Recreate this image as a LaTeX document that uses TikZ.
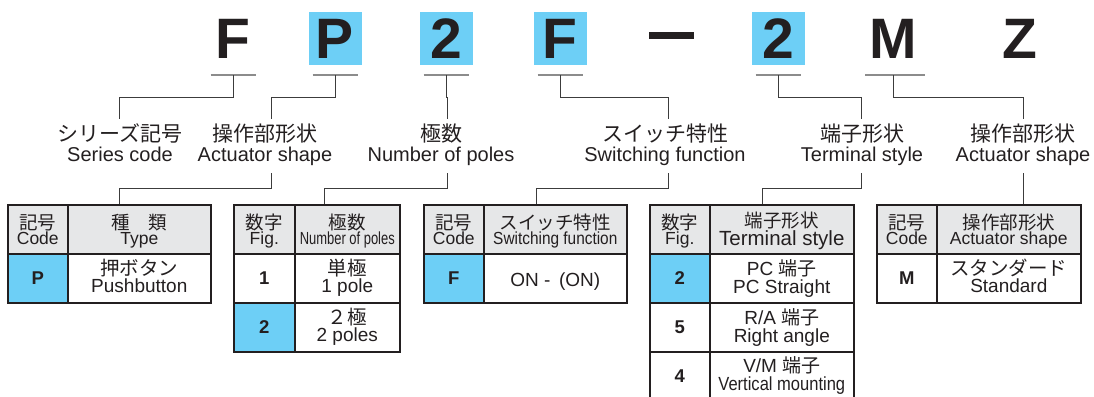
\documentclass[tikz,border=0pt]{standalone}
\usepackage{fontspec}
\usepackage{graphicx}
\setmainfont{Liberation Sans}
\newfontfamily\jp{Noto Sans CJK JP}
\usetikzlibrary{positioning}
\definecolor{hlblue}{HTML}{6DCFF6}
\definecolor{headgray}{HTML}{E6E7E8}
\definecolor{ink}{HTML}{231F20}
\definecolor{wire}{HTML}{3C3C3C}
\definecolor{ulgray}{HTML}{8C8C8C}
\newcommand\jpt[1]{{\jp #1}}

\begin{document}
\begin{tikzpicture}[x=1pt,y=-1pt]
    \tikzstyle{code} = [minimum width=53pt, minimum height=53pt, inner sep=0pt, text height=41pt, text depth=0pt, text=ink, font=\fontsize{57}{57}\selectfont\bfseries];
    \tikzstyle{dashbar} = [fill=ink, minimum width=45pt, minimum height=7pt, inner sep=0pt];
    \tikzstyle{uline} = [draw=ulgray, line width=2pt];
    \tikzstyle{conn} = [draw=wire, line width=1pt];
    \tikzstyle{lbljp} = [anchor=base, text=ink, font=\jp\fontsize{21}{21}\selectfont, text height=17pt, text depth=3pt, inner xsep=0pt, inner ysep=5pt];
    \tikzstyle{lblen} = [anchor=base, text=ink, font=\fontsize{20}{20}\selectfont, text height=14pt, text depth=5pt, inner xsep=0pt, inner ysep=7pt];
    \tikzstyle{cell} = [draw=ink, line width=1.6pt, anchor=north west, minimum height=49pt, inner sep=0pt];
    \tikzstyle{head} = [cell, fill=headgray];
    \tikzstyle{hl} = [cell, fill=hlblue];
    \tikzstyle{hjp} = [anchor=base, inner sep=0pt, text=ink, font=\jp\fontsize{18.5}{18.5}\selectfont];
    \tikzstyle{hen} = [anchor=base, inner sep=0pt, text=ink, font=\fontsize{17.5}{17.5}\selectfont];
    \tikzstyle{rjp} = [anchor=base, inner sep=0pt, text=ink, font=\jp\fontsize{19.5}{19.5}\selectfont];
    \tikzstyle{ren} = [anchor=base, inner sep=0pt, text=ink, font=\fontsize{19}{19}\selectfont];
    \tikzstyle{rcode} = [anchor=base, inner sep=0pt, text=ink, font=\fontsize{18.5}{18.5}\selectfont\bfseries];

    \useasboundingbox (0,0) rectangle (1094,396);
    \clip (0,0) rectangle (1094,396);

    % part number
    \node[code] (code-series) at (233,38.5) {F};
    \node[code, fill=hlblue] (code-act) at (335,38.5) {P};
    \node[code, fill=hlblue] (code-poles) at (446,38.5) {2};
    \node[code, fill=hlblue] (code-sw) at (560,38.5) {F};
    \node[dashbar] (code-dash) at (671,35.5) {};
    \node[code, fill=hlblue] (code-term) at (778,38.5) {2};
    \node[code] (code-act2) at (893,38.5) {M};
    \node[code] (code-z) at (1020,38.5) {Z};
    \foreach \c in {series,act,poles,sw,term}
        \path[uline] ([xshift=-22.5pt,yshift=-10pt]code-\c.south) -- ([xshift=22.5pt,yshift=-10pt]code-\c.south);
    \path[uline] ([xshift=-28pt,yshift=-10pt]code-act2.south) -- ([xshift=32pt,yshift=-10pt]code-act2.south);

    % labels
    \node[lbljp] (series-jp) at (120,141) {シリーズ記号};
    \node[lblen] (series-en) at (120,161) {Series code};
    \node[lbljp] (act-jp) at (265,141) {操作部形状};
    \node[lblen] (act-en) at (265,161) {Actuator shape};
    \node[lbljp] (poles-jp) at (441,141) {極数};
    \node[lblen] (poles-en) at (441,161) {Number of poles};
    \node[lbljp] (sw-jp) at (665,141) {スイッチ特性};
    \node[lblen] (sw-en) at (665,161) {Switching function};
    \node[lbljp] (term-jp) at (862,141) {端子形状};
    \node[lblen] (term-en) at (862,161) {Terminal style};
    \node[lbljp] (act2-jp) at (1023,141) {操作部形状};
    \node[lblen] (act2-en) at (1023,161) {Actuator shape};

    % tables
    \node[head, minimum width=60pt] (t1-h1) at (7,204) {};
    \node[head, minimum width=143pt] (t1-h2) at (67,204) {};
    \node[hl, minimum width=60pt] (t1-r1) at (7,253) {};
    \node[cell, minimum width=143pt] (t1-r1b) at (67,253) {};

    \node[head, minimum width=61pt] (t2-h1) at (233,204) {};
    \node[head, minimum width=105pt] (t2-h2) at (294,204) {};
    \node[cell, minimum width=61pt] (t2-r1) at (233,253) {};
    \node[cell, minimum width=105pt] (t2-r1b) at (294,253) {};
    \node[hl, minimum width=61pt] (t2-r2) at (233,302) {};
    \node[cell, minimum width=105pt] (t2-r2b) at (294,302) {};

    \node[head, minimum width=60pt] (t3-h1) at (423,204) {};
    \node[head, minimum width=143pt] (t3-h2) at (483,204) {};
    \node[hl, minimum width=60pt] (t3-r1) at (423,253) {};
    \node[cell, minimum width=143pt] (t3-r1b) at (483,253) {};

    \node[head, minimum width=60pt] (t4-h1) at (649,204) {};
    \node[head, minimum width=144pt] (t4-h2) at (709,204) {};
    \node[hl, minimum width=60pt] (t4-r1) at (649,253) {};
    \node[cell, minimum width=144pt] (t4-r1b) at (709,253) {};
    \node[cell, minimum width=60pt] (t4-r2) at (649,302) {};
    \node[cell, minimum width=144pt] (t4-r2b) at (709,302) {};
    \node[cell, minimum width=60pt] (t4-r3) at (649,351) {};
    \node[cell, minimum width=144pt] (t4-r3b) at (709,351) {};

    \node[head, minimum width=60pt] (t5-h1) at (876,204) {};
    \node[head, minimum width=144pt] (t5-h2) at (936,204) {};
    \node[cell, minimum width=60pt] (t5-r1) at (876,253) {};
    \node[cell, minimum width=144pt] (t5-r1b) at (936,253) {};

    % header texts
    \foreach \t/\a/\b in {t1/記号/Code, t3/記号/Code, t5/記号/Code, t2/数字/Fig., t4/数字/Fig.} {
        \node[hjp] (\t-h1-jp) at ([yshift=-25pt]\t-h1.north) {\a};
        \node[hen] (\t-h1-en) at ([yshift=-40pt]\t-h1.north) {\b};
    }
    \node[hjp] (t1-h2-jp) at ([yshift=-25pt]t1-h2.north) {種　類};
    \node[hen] (t1-h2-en) at ([yshift=-40pt]t1-h2.north) {Type};
    \node[hjp] (t2-h2-jp) at ([yshift=-25pt]t2-h2.north) {極数};
    \node[hen] (t2-h2-en) at ([yshift=-40pt]t2-h2.north) {\scalebox{0.74}[1]{Number of poles}};
    \node[hjp] (t3-h2-jp) at ([yshift=-25pt]t3-h2.north) {スイッチ特性};
    \node[hen] (t3-h2-en) at ([yshift=-40pt]t3-h2.north) {\scalebox{0.88}[1]{Switching function}};
    \node[hjp] (t4-h2-jp) at ([yshift=-23.5pt]t4-h2.north) {端子形状};
    \node[hen, font=\fontsize{20.5}{20.5}\selectfont] (t4-h2-en) at ([yshift=-41.5pt]t4-h2.north) {Terminal style};
    \node[hjp] (t5-h2-jp) at ([yshift=-25pt]t5-h2.north) {操作部形状};
    \node[hen] (t5-h2-en) at ([yshift=-40pt]t5-h2.north) {Actuator shape};

    % row texts
    \node[rcode] (t1-r1-c) at ([yshift=-31pt]t1-r1.north) {P};
    \node[rjp] (t1-r1b-jp) at ([yshift=-22.5pt]t1-r1b.north) {押ボタン};
    \node[ren] (t1-r1b-en) at ([yshift=-39.5pt]t1-r1b.north) {Pushbutton};
    \node[rcode] (t2-r1-c) at ([yshift=-31pt]t2-r1.north) {1};
    \node[rjp] (t2-r1b-jp) at ([yshift=-22.5pt]t2-r1b.north) {単極};
    \node[ren] (t2-r1b-en) at ([yshift=-39.5pt]t2-r1b.north) {1 pole};
    \node[rcode] (t2-r2-c) at ([yshift=-31pt]t2-r2.north) {2};
    \node[rjp] (t2-r2b-jp) at ([yshift=-22.5pt]t2-r2b.north) {２極};
    \node[ren] (t2-r2b-en) at ([yshift=-39.5pt]t2-r2b.north) {2 poles};
    \node[rcode] (t3-r1-c) at ([yshift=-31pt]t3-r1.north) {F};
    \node[ren] (t3-r1b-en) at ([yshift=-33pt]t3-r1b.north) {ON - \,(ON)};
    \node[rcode] (t4-r1-c) at ([yshift=-31pt]t4-r1.north) {2};
    \node[ren] (t4-r1b-jp) at ([yshift=-22.5pt]t4-r1b.north) {PC \jpt{端子}};
    \node[ren] (t4-r1b-en) at ([yshift=-40pt]t4-r1b.north) {PC Straight};
    \node[rcode] (t4-r2-c) at ([yshift=-31pt]t4-r2.north) {5};
    \node[ren] (t4-r2b-jp) at ([yshift=-22.5pt]t4-r2b.north) {R/A \jpt{端子}};
    \node[ren] (t4-r2b-en) at ([yshift=-40pt]t4-r2b.north) {Right angle};
    \node[rcode] (t4-r3-c) at ([yshift=-31pt]t4-r3.north) {4};
    \node[ren] (t4-r3b-jp) at ([yshift=-21.5pt]t4-r3b.north) {V/M \jpt{端子}};
    \node[ren] (t4-r3b-en) at ([yshift=-39pt]t4-r3b.north) {\scalebox{0.87}[1]{Vertical mounting}};
    \node[rcode] (t5-r1-c) at ([yshift=-31pt]t5-r1.north) {M};
    \node[rjp] (t5-r1b-jp) at ([yshift=-22.5pt]t5-r1b.north) {スタンダード};
    \node[ren] (t5-r1b-en) at ([yshift=-39.5pt]t5-r1b.north) {Standard};

    % connectors
    \tikzstyle{every path}=[conn]
    \path ([yshift=-10pt]code-series.south) -- ++(0,22) -| ([xshift=-1pt]series-jp.north);
    \path ([yshift=-10pt]code-act.south) -- ++(0,22) -| ([xshift=6pt]act-jp.north);
    \path ([yshift=-10pt]code-poles.south) -- ++(0,22) -| ([xshift=6pt]poles-jp.north);
    \path ([yshift=-10pt]code-sw.south) -- ++(0,22) -| ([xshift=3pt]sw-jp.north);
    \path ([yshift=-10pt]code-term.south) -- ++(0,22) -| ([xshift=-1pt]term-jp.north);
    \path ([yshift=-10pt]code-act2.south) -- ++(0,22) -| (act2-jp.north);
    \path ([xshift=6pt]act-en.south) -- ++(0,15) -| ([xshift=112pt]t1-h1.north west);
    \path ([xshift=6pt]poles-en.south) -- ++(0,15) -| ([xshift=91pt]t2-h1.north west);
    \path ([xshift=3pt]sw-en.south) -- ++(0,15) -| ([xshift=113pt]t3-h1.north west);
    \path ([xshift=-1pt]term-en.south) -- ++(0,15) -| ([xshift=113pt]t4-h1.north west);
    \path (act2-en.south) -- ++(0,15) -| ([xshift=147pt]t5-h1.north west);
\end{tikzpicture}
\end{document}
